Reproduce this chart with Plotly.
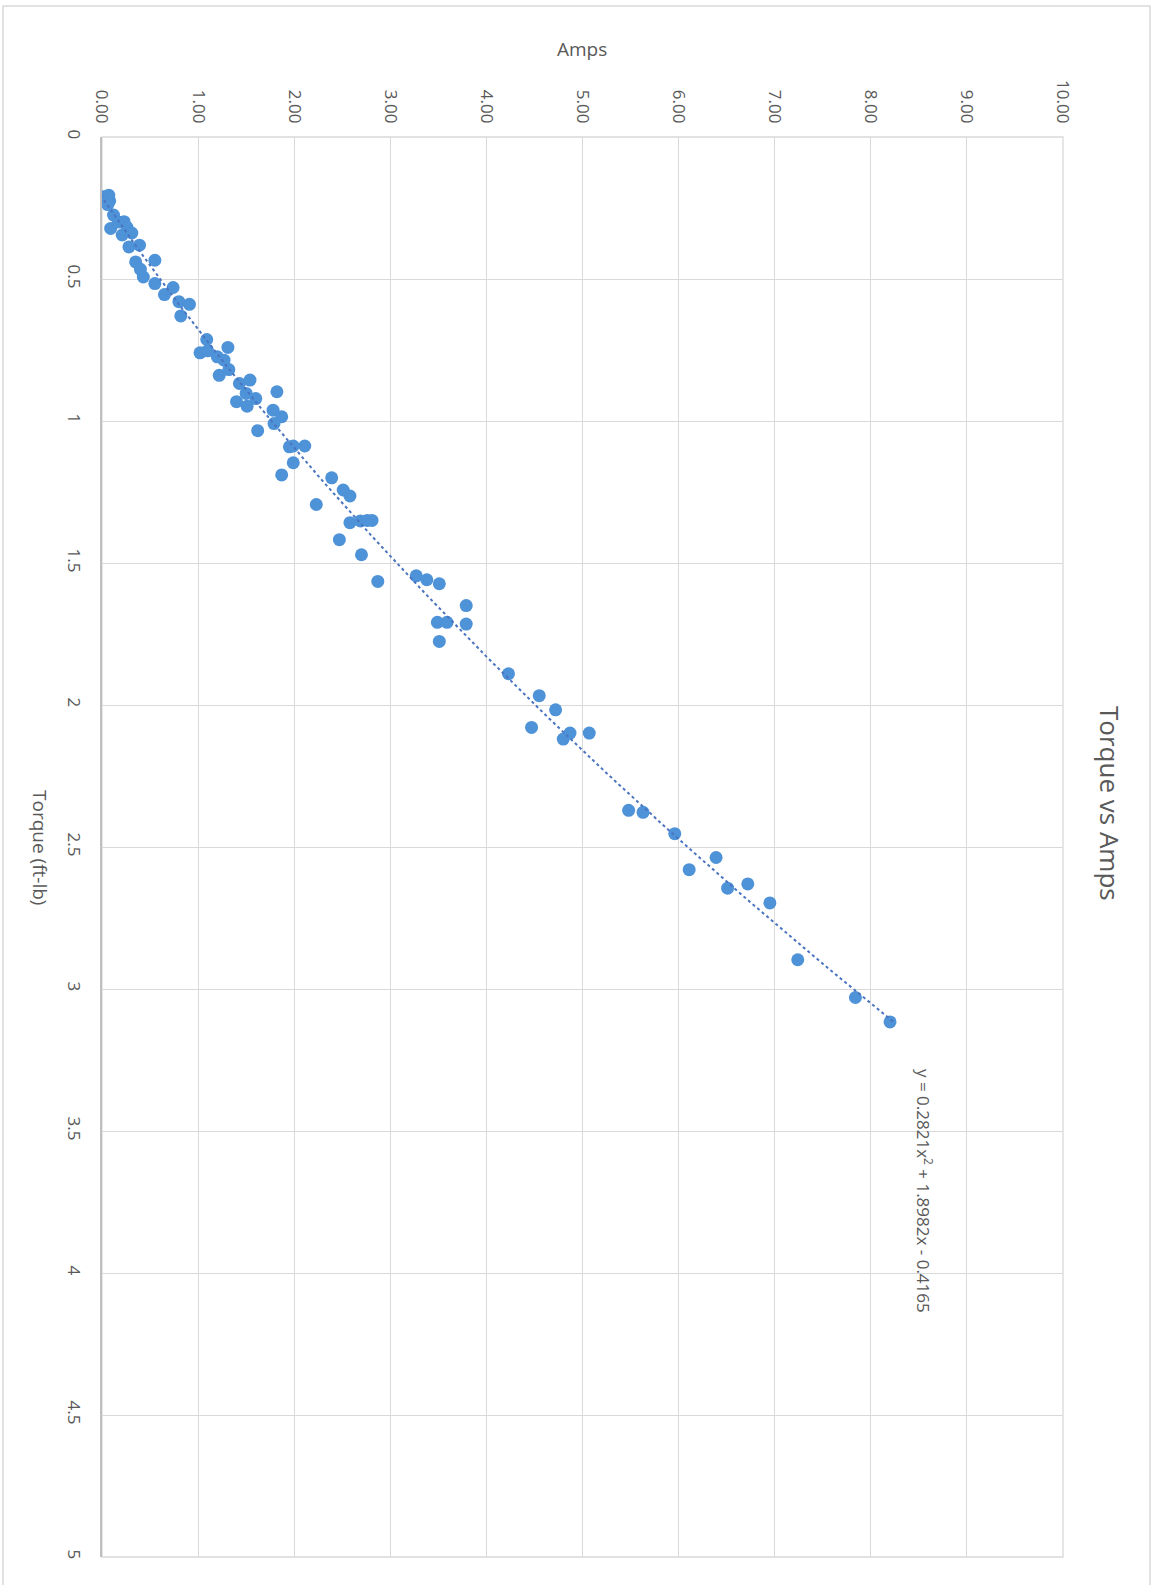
import numpy as np
import plotly.graph_objects as go

# Measured motor current (A) and the torque (ft-lb) recorded at it
amps = [0.02, 0.05, 0.03, 0.07, 0.04, 0.08, 0.06,
        0.12, 0.09, 0.17, 0.23, 0.26, 0.21, 0.31, 0.28, 0.39, 0.55, 0.35, 0.40, 0.43,
        0.55, 0.65, 0.74, 0.80, 0.91, 0.82,
        1.09, 1.02, 1.10, 1.20, 1.31, 1.27, 1.32, 1.22, 1.43, 1.54, 1.50, 1.40, 1.60,
        1.51, 1.82, 1.78, 1.87, 1.79, 1.62,
        1.95, 1.99, 2.11, 1.99, 1.87, 2.39, 2.23, 2.51, 2.58, 2.58, 2.69, 2.76, 2.81,
        2.47, 2.70, 2.87,
        3.27, 3.38, 3.51, 3.79, 3.49, 3.59, 3.79, 3.51, 4.23, 4.55, 4.72, 4.47, 4.80,
        4.87, 5.07,
        5.48, 5.63, 5.96, 6.39, 6.11, 6.51, 6.72, 6.95, 7.24, 7.84, 8.20]
torque = [0.210, 0.215, 0.228, 0.205, 0.222, 0.225, 0.238,
          0.275, 0.322, 0.299, 0.298, 0.318, 0.345, 0.338, 0.387, 0.381, 0.434, 0.440, 0.466, 0.493,
          0.516, 0.555, 0.530, 0.580, 0.589, 0.630,
          0.713, 0.760, 0.753, 0.774, 0.741, 0.786, 0.819, 0.839, 0.868, 0.856, 0.903, 0.932, 0.921,
          0.948, 0.897, 0.962, 0.985, 1.009, 1.034,
          1.091, 1.088, 1.088, 1.147, 1.190, 1.200, 1.294, 1.243, 1.264, 1.358, 1.352, 1.350, 1.350,
          1.418, 1.471, 1.565,
          1.545, 1.559, 1.573, 1.650, 1.709, 1.709, 1.715, 1.776, 1.890, 1.967, 2.017, 2.079, 2.120,
          2.099, 2.099,
          2.371, 2.378, 2.453, 2.537, 2.580, 2.645, 2.630, 2.697, 2.897, 3.030, 3.116]

# Polynomial trendline: amps = a*T^2 + b*T + c
fit_a, fit_b, fit_c = 0.2821, 1.8982, -0.4165

amps_ticks = [0, 1, 2, 3, 4, 5, 6, 7, 8, 9, 10]
torque_ticks = [0, 0.5, 1, 1.5, 2, 2.5, 3, 3.5, 4, 4.5, 5]

W, H = 1161, 1585
L, R, T, B = 102, 1063, 137, 1557   # plot-area edges in pixels

def paper_x(px):
    return (px - L) / (R - L)

def paper_y(py):
    return (B - py) / (B - T)

TEXT = "#595959"
GRID = "#d9d9d9"
FONT = "Open Sans"

t_fit = np.linspace(min(torque), max(torque), 200)
a_fit = fit_a * t_fit ** 2 + fit_b * t_fit + fit_c

fig = go.Figure()
fig.add_trace(go.Scatter(
    x=amps, y=torque, mode="markers",
    marker=dict(size=13, color="#4e92d8", line=dict(width=0)),
    showlegend=False, hoverinfo="x+y"))
fig.add_trace(go.Scatter(
    x=a_fit, y=t_fit, mode="lines",
    line=dict(color="#4a74c0", width=2, dash="dot"),
    showlegend=False, hoverinfo="skip"))

fig.update_layout(
    width=W, height=H,
    margin=dict(l=L, r=W - R, t=T, b=H - B, pad=0),
    paper_bgcolor="white", plot_bgcolor="white",
    font=dict(family=FONT, color=TEXT, size=17),
    xaxis=dict(
        range=[0, 10], side="top", tickvals=amps_ticks,
        ticktext=[f"{v:.2f}" for v in amps_ticks],
        tickangle=90, ticks="", ticklabelstandoff=10,
        showgrid=True, gridcolor=GRID, gridwidth=1.3,
        zeroline=False, showline=False,
        tickfont=dict(size=17, color=TEXT, family=FONT)),
    yaxis=dict(
        range=[5, 0], tickvals=torque_ticks,
        ticktext=[f"{v:g}" for v in torque_ticks],
        tickangle=90, ticks="", ticklabelstandoff=12,
        showgrid=True, gridcolor=GRID, gridwidth=1.3,
        zeroline=False, showline=True, linecolor="#bfbfbf", linewidth=1.5,
        mirror=False,
        tickfont=dict(size=17, color=TEXT, family=FONT)),
)

# Outer chart frame
fig.add_shape(type="rect", xref="paper", yref="paper",
              x0=paper_x(3), x1=paper_x(1150), y0=paper_y(1600), y1=paper_y(6),
              line=dict(color="#d9d9d9", width=1.5), fillcolor="rgba(0,0,0,0)",
              layer="below")
# Right and bottom plot edges
fig.add_shape(type="rect", xref="paper", yref="paper", x0=0, x1=1, y0=0, y1=1,
              line=dict(color=GRID, width=1.3), layer="below")

annotations = [
    dict(text="Torque vs Amps", x=paper_x(1110), y=paper_y(803), textangle=90,
         font=dict(size=26, color=TEXT, family=FONT)),
    dict(text="Amps", x=paper_x(582), y=paper_y(49), textangle=0,
         font=dict(size=19, color=TEXT, family=FONT)),
    dict(text="Torque (ft-lb)", x=paper_x(40), y=paper_y(847), textangle=90,
         font=dict(size=19, color=TEXT, family=FONT)),
    dict(text="y = 0.2821x<sup>2</sup> + 1.8982x - 0.4165",
         x=paper_x(925), y=paper_y(1191), textangle=90,
         font=dict(size=17, color=TEXT, family=FONT)),
]
for a in annotations:
    fig.add_annotation(xref="paper", yref="paper", showarrow=False,
                       xanchor="center", yanchor="middle", **a)

fig.write_html("out.html")
